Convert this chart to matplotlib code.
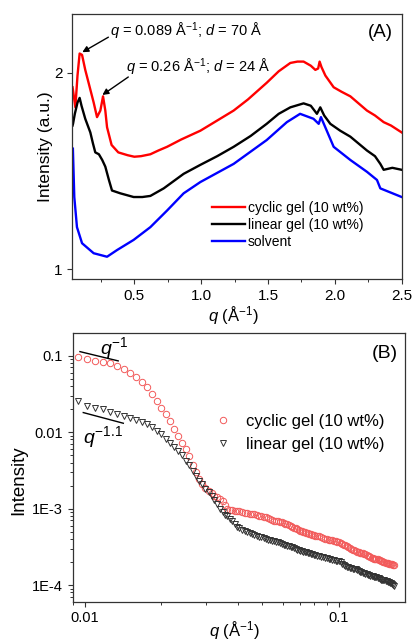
import matplotlib
matplotlib.use("Agg")
import matplotlib.pyplot as plt
from matplotlib.ticker import FixedLocator, FixedFormatter, NullLocator, LogLocator, NullFormatter

plt.rcParams['font.family'] = ['Liberation Sans', 'DejaVu Sans']
plt.rcParams['mathtext.fontset'] = 'custom'
plt.rcParams['mathtext.rm'] = 'Liberation Sans'
plt.rcParams['mathtext.it'] = 'Liberation Sans:italic'
plt.rcParams['mathtext.bf'] = 'Liberation Sans:bold'

# panel A: WAXS curves (q in 1/A, intensity a.u.)
cyclic_q = [0.038, 0.0415, 0.059, 0.075, 0.091, 0.109, 0.133, 0.158, 0.196, 0.221,
            0.246, 0.266, 0.283, 0.296, 0.33, 0.38, 0.45, 0.50, 0.55, 0.62,
            0.68, 0.745, 0.85, 0.994, 1.10, 1.243, 1.35, 1.49, 1.58, 1.667,
            1.72, 1.766, 1.82, 1.854, 1.875, 1.886, 1.90, 1.929, 1.991, 2.05,
            2.116, 2.24, 2.30, 2.365, 2.42, 2.50]
cyclic_i = [1.90, 1.88, 1.77, 1.98, 2.14, 2.13, 2.02, 1.93, 1.80, 1.71,
            1.75, 1.84, 1.75, 1.65, 1.55, 1.51, 1.495, 1.487, 1.49, 1.50,
            1.52, 1.54, 1.58, 1.63, 1.68, 1.75, 1.82, 1.93, 2.01, 2.07,
            2.08, 2.08, 2.05, 2.02, 2.03, 2.08, 2.04, 1.98, 1.90, 1.87,
            1.84, 1.75, 1.72, 1.68, 1.66, 1.62]

linear_q = [0.038, 0.0415, 0.055, 0.075, 0.091, 0.105, 0.133, 0.171, 0.19, 0.208,
            0.235, 0.26, 0.283, 0.31, 0.333, 0.395, 0.495, 0.56, 0.62, 0.72,
            0.869, 0.994, 1.12, 1.243, 1.37, 1.49, 1.58, 1.667, 1.766, 1.82,
            1.866, 1.891, 1.92, 1.966, 2.04, 2.116, 2.24, 2.30, 2.34, 2.365,
            2.43, 2.50]
linear_i = [1.66, 1.67, 1.73, 1.80, 1.83, 1.78, 1.70, 1.62, 1.56, 1.51,
            1.50, 1.47, 1.436, 1.37, 1.32, 1.307, 1.29, 1.29, 1.295, 1.33,
            1.40, 1.445, 1.49, 1.54, 1.60, 1.67, 1.73, 1.77, 1.795, 1.78,
            1.73, 1.77, 1.72, 1.67, 1.63, 1.596, 1.52, 1.49, 1.45, 1.42,
            1.43, 1.42]

solvent_q = [0.0405, 0.051, 0.071, 0.109, 0.196, 0.296, 0.371, 0.495, 0.62, 0.745,
             0.869, 0.994, 1.243, 1.49, 1.641, 1.74, 1.84, 1.879, 1.896, 1.991,
             2.116, 2.24, 2.315, 2.34, 2.5]
solvent_i = [1.53, 1.29, 1.16, 1.096, 1.058, 1.045, 1.07, 1.109, 1.16, 1.23,
             1.307, 1.36, 1.45, 1.577, 1.68, 1.73, 1.70, 1.67, 1.71, 1.54,
             1.47, 1.41, 1.37, 1.33, 1.29]

# panel B: SAXS curves, one q grid for both samples (three stretches)
q_low = [0.0094, 0.0102, 0.0110, 0.0118, 0.0126, 0.0134, 0.0143, 0.0151,
         0.0159, 0.0167, 0.0175, 0.0184, 0.0192, 0.0200, 0.0208, 0.0216,
         0.0225, 0.0233, 0.0241, 0.0249, 0.0257, 0.0266, 0.0274, 0.0282,
         0.0290, 0.0298, 0.0307, 0.0315, 0.0323, 0.0331, 0.0339, 0.0348,
         0.0356, 0.0364, 0.0372, 0.0380, 0.0389, 0.0397, 0.0405]
q_mid = [0.0415, 0.0425, 0.0435, 0.0445, 0.0455, 0.0465, 0.0475, 0.0485,
         0.0495, 0.0505, 0.0515, 0.0525, 0.0535, 0.0545, 0.0555, 0.0565,
         0.0575, 0.0585, 0.0595, 0.0605, 0.0615, 0.0625, 0.0635, 0.0645,
         0.0655, 0.0665, 0.0675, 0.0685, 0.0695, 0.0705, 0.0715, 0.0725,
         0.0735, 0.0745, 0.0755, 0.0765, 0.0775, 0.0785, 0.0795, 0.0805]
q_high = [0.0820, 0.0835, 0.0850, 0.0865, 0.0880, 0.0895, 0.0910, 0.0925,
          0.0940, 0.0955, 0.0970, 0.0985, 0.1000, 0.1015, 0.1030, 0.1045,
          0.1060, 0.1075, 0.1090, 0.1105, 0.1120, 0.1135, 0.1150, 0.1165,
          0.1180, 0.1195, 0.1210, 0.1225, 0.1240, 0.1255, 0.1270, 0.1285,
          0.1300, 0.1315, 0.1330, 0.1345, 0.1360, 0.1375, 0.1390, 0.1405,
          0.1420, 0.1435, 0.1450, 0.1465, 0.1480, 0.1495, 0.1510, 0.1525,
          0.1540, 0.1555, 0.1570, 0.1585, 0.1600, 0.1615, 0.1630, 0.1645]

cyc_low = [0.097, 0.0897, 0.086, 0.082, 0.0796, 0.0733, 0.066, 0.0595,
           0.053, 0.0452, 0.0386, 0.0315, 0.0254, 0.0209, 0.0172, 0.0141,
           0.0111, 0.0090, 0.0072, 0.0060, 0.0049, 0.0037, 0.0030, 0.00245,
           0.0021, 0.00187, 0.00171, 0.00160, 0.00147, 0.00140, 0.00134, 0.00126,
           0.00112, 0.00100, 0.00096, 0.00095, 0.00094, 0.00093, 0.00092]
cyc_mid = [0.000900, 0.000880, 0.000870, 0.000860, 0.000850, 0.000840, 0.000825, 0.000810,
           0.000800, 0.000785, 0.000770, 0.000750, 0.000725, 0.000705, 0.000695, 0.000688,
           0.000680, 0.000670, 0.000660, 0.000645, 0.000632, 0.000620, 0.000605, 0.000590,
           0.000578, 0.000565, 0.000550, 0.000535, 0.000522, 0.000512, 0.000503, 0.000495,
           0.000488, 0.000480, 0.000472, 0.000465, 0.000458, 0.000452, 0.000447, 0.000443]
cyc_high = [0.000440, 0.000432, 0.000423, 0.000414, 0.000405, 0.000399, 0.000393, 0.000388,
            0.000383, 0.000378, 0.000373, 0.000368, 0.000363, 0.000355, 0.000345, 0.000337,
            0.000329, 0.000320, 0.000311, 0.000303, 0.000296, 0.000289, 0.000283, 0.000278,
            0.000273, 0.000269, 0.000266, 0.000263, 0.000260, 0.000257, 0.000252, 0.000247,
            0.000242, 0.000237, 0.000232, 0.000228, 0.000225, 0.000222, 0.000220, 0.000218,
            0.000216, 0.000213, 0.000210, 0.000207, 0.000204, 0.000201, 0.000199, 0.000197,
            0.000195, 0.000193, 0.000191, 0.000190, 0.000189, 0.000187, 0.000185, 0.000183]

lin_low = [0.0253, 0.0222, 0.0207, 0.0198, 0.0185, 0.0173, 0.0162, 0.0153,
           0.0144, 0.0135, 0.0127, 0.0115, 0.0103, 0.0093, 0.0081, 0.0072,
           0.0063, 0.0056, 0.0050, 0.0042, 0.0037, 0.0031, 0.0027, 0.0023,
           0.0021, 0.00182, 0.00163, 0.00147, 0.00128, 0.00113, 0.00098, 0.00089,
           0.00083, 0.00079, 0.00074, 0.00068, 0.00062, 0.00058, 0.00055]
lin_mid = [0.000530, 0.000510, 0.000492, 0.000478, 0.000462, 0.000450, 0.000440, 0.000431,
           0.000421, 0.000410, 0.000400, 0.000392, 0.000385, 0.000379, 0.000373, 0.000368,
           0.000362, 0.000352, 0.000344, 0.000337, 0.000330, 0.000325, 0.000320, 0.000315,
           0.000310, 0.000302, 0.000295, 0.000289, 0.000284, 0.000280, 0.000277, 0.000273,
           0.000270, 0.000267, 0.000264, 0.000260, 0.000256, 0.000252, 0.000249, 0.000246]
lin_high = [0.000243, 0.000240, 0.000236, 0.000232, 0.000228, 0.000224, 0.000220, 0.000217,
            0.000214, 0.000211, 0.000208, 0.000206, 0.000205, 0.000198, 0.000190, 0.000184,
            0.000178, 0.000174, 0.000171, 0.000168, 0.000166, 0.000163, 0.000161, 0.000160,
            0.000157, 0.000153, 0.000150, 0.000147, 0.000145, 0.000143, 0.000141, 0.000139,
            0.000136, 0.000134, 0.000132, 0.000131, 0.000130, 0.000129, 0.000128, 0.000126,
            0.000124, 0.000122, 0.000120, 0.000118, 0.000117, 0.000116, 0.000115, 0.000114,
            0.000113, 0.000111, 0.000109, 0.000107, 0.000106, 0.000104, 0.000100, 0.0000965]

# guide lines for the power laws
slope1_q = [0.00956, 0.01352]
slope1_i = [0.1128, 0.0853]
slope2_q = [0.00985, 0.01416]
slope2_i = [0.0180, 0.01305]

top_xticks = [0.5, 1.0, 1.5, 2.0, 2.5]
top_yticks = [1, 2]
bot_xticks = [0.01, 0.1]
bot_xlabels = ["0.01", "0.1"]
bot_yticks = [1e-4, 1e-3, 0.01, 0.1]
bot_ylabels = ["1E-4", "1E-3", "0.01", "0.1"]

SPINE = '#333333'


def style_axes(ax):
  for s in ax.spines.values():
    s.set_color(SPINE)
    s.set_linewidth(0.9)
  ax.tick_params(which='major', direction='out', length=3.5, width=0.8, color=SPINE)
  ax.tick_params(which='minor', direction='out', length=2, width=0.7, color=SPINE)
  ax.tick_params(top=False, right=False)


def panel_a(ax):
  ax.plot(cyclic_q, cyclic_i, color='#ff0000', lw=1.7, label='cyclic gel (10 wt%)')
  ax.plot(linear_q, linear_i, color='black', lw=1.7, label='linear gel (10 wt%)')
  ax.plot(solvent_q, solvent_i, color='#0000ff', lw=1.7, label='solvent')
  ax.set_yscale('log')
  ax.set_xlim(0.036, 2.5)
  ax.set_ylim(0.965, 2.46)
  ax.xaxis.set_major_locator(FixedLocator(top_xticks))
  ax.xaxis.set_major_formatter(FixedFormatter(["%.1f" % t for t in top_xticks]))
  ax.xaxis.set_minor_locator(FixedLocator([0.25, 0.75, 1.25, 1.75, 2.25]))
  ax.yaxis.set_major_locator(FixedLocator(top_yticks))
  ax.yaxis.set_major_formatter(FixedFormatter([str(t) for t in top_yticks]))
  ax.yaxis.set_minor_locator(NullLocator())
  style_axes(ax)
  ax.tick_params(labelsize=11)
  ax.set_ylabel('Intensity (a.u.)', fontsize=12.5)
  ax.yaxis.set_label_coords(-0.0586, 0.5)
  ax.set_xlabel(r'$q$ (Å$^{-1}$)', fontsize=12)
  ax.xaxis.set_label_coords(0.488, -0.138)
  ax.xaxis.label.set_va('center')

  ap = dict(arrowstyle='-|>', color='black', lw=1.0, mutation_scale=9, shrinkA=0, shrinkB=0)
  ax.annotate('', xy=(0.111, 2.15), xytext=(0.306, 2.267), arrowprops=ap)
  ax.text(0.3205, 2.311, r'$q$ = 0.089 Å$^{-1}$; $d$ = 70 Å', fontsize=10.5, ha='left', va='center')
  ax.annotate('', xy=(0.261, 1.849), xytext=(0.455, 1.97), arrowprops=ap)
  ax.text(0.44, 2.04, r'$q$ = 0.26 Å$^{-1}$; $d$ = 24 Å', fontsize=10.5, ha='left', va='center')
  ax.text(0.934, 0.932, '(A)', transform=ax.transAxes, fontsize=13.5, ha='center', va='center')

  ax.legend(loc='upper left', bbox_to_anchor=(0.424, 0.295), frameon=False, fontsize=10,
            handlelength=2.37, handletextpad=0.22, labelspacing=0.2, borderpad=0, borderaxespad=0)


def panel_b(ax):
  saxs_q = q_low + q_mid + q_high
  saxs_cyclic = cyc_low + cyc_mid + cyc_high
  saxs_linear = lin_low + lin_mid + lin_high
  ax.plot(saxs_q, saxs_cyclic, linestyle='none', marker='o', ms=4.6, mfc='none', mec='#f25a5a',
          mew=0.7, label='cyclic gel (10 wt%)')
  ax.plot(saxs_q, saxs_linear, linestyle='none', marker='v', ms=4.8, mfc='none', mec='#333333',
          mew=0.7, label='linear gel (10 wt%)')
  ax.plot(slope1_q, slope1_i, color='black', lw=1.0)
  ax.plot(slope2_q, slope2_i, color='black', lw=1.0)
  ax.set_xscale('log')
  ax.set_yscale('log')
  ax.set_xlim(0.00895, 0.182)
  ax.set_ylim(6.05e-5, 0.196)
  ax.xaxis.set_major_locator(FixedLocator(bot_xticks))
  ax.xaxis.set_major_formatter(FixedFormatter(bot_xlabels))
  ax.xaxis.set_minor_locator(LogLocator(base=10, subs=range(2, 10)))
  ax.xaxis.set_minor_formatter(NullFormatter())
  ax.yaxis.set_major_locator(FixedLocator(bot_yticks))
  ax.yaxis.set_major_formatter(FixedFormatter(bot_ylabels))
  ax.yaxis.set_minor_locator(LogLocator(base=10, subs=range(2, 10)))
  ax.yaxis.set_minor_formatter(NullFormatter())
  style_axes(ax)
  ax.tick_params(labelsize=10.5)
  ax.set_ylabel('Intensity', fontsize=13.5)
  ax.yaxis.set_label_coords(-0.1375, 0.453)
  ax.set_xlabel(r'$q$ (Å$^{-1}$)', fontsize=12)
  ax.xaxis.set_label_coords(0.488, -0.109)
  ax.xaxis.label.set_va('center')

  ax.text(0.0130, 0.126, r'$q^{-1}$', fontsize=14, ha='center', va='center')
  ax.text(0.01177, 0.00853, r'$q^{-1.1}$', fontsize=14, ha='center', va='center')
  ax.text(0.94, 0.925, '(B)', transform=ax.transAxes, fontsize=14, ha='center', va='center')

  ax.legend(loc='upper left', bbox_to_anchor=(0.427, 0.70), frameon=False, fontsize=12,
            handlelength=1.0, handletextpad=0.9, labelspacing=0.5, borderpad=0, borderaxespad=0,
            numpoints=1)


def main():
  fig = plt.figure(figsize=(4.14, 6.43), dpi=100)
  ax1 = fig.add_axes([0.1746, 0.5656, 0.7957, 0.4126])
  ax2 = fig.add_axes([0.1756, 0.0642, 0.8027, 0.4175])
  panel_a(ax1)
  panel_b(ax2)
  fig.savefig('out.png', dpi=100)


if __name__ == "__main__":
  main()
